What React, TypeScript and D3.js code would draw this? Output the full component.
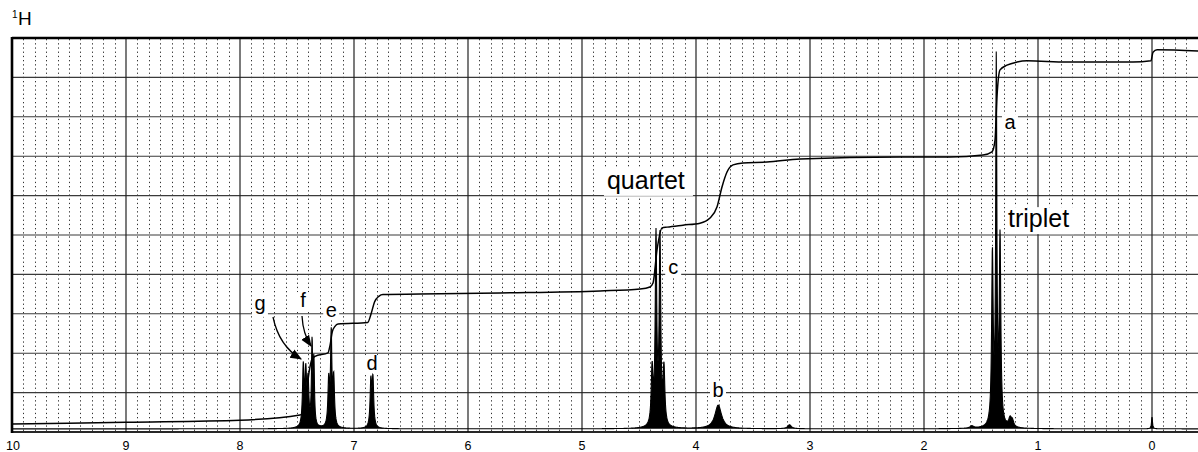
import React from "react";
import * as d3 from "d3";

// ---- data ----
const xTicks = [10, 9, 8, 7, 6, 5, 4, 3, 2, 1, 0];
const tickLabels = ["10", "9", "8", "7", "6", "5", "4", "3", "2", "1", "0"];

// spectrum lines: position (ppm), height (grid units), half-width (ppm)
const peakPpm = [7.445, 7.423, 7.403, 7.368, 7.352, 7.222, 7.2, 7.178, 6.852, 6.834, 4.385, 4.351, 4.316, 4.281, 3.805, 3.18, 1.58, 1.4, 1.366, 1.333, 1.245, 1.225, 0.0];
const peakHeight = [1.5, 1.3, 1.1, 2.05, 1.6, 1.15, 2.3, 1.2, 1.15, 1.2, 1.4, 4.75, 4.7, 1.4, 0.6, 0.1, 0.06, 4.3, 9.1, 4.7, 0.2, 0.15, 0.3];
const peakWidth = [0.008, 0.008, 0.008, 0.006, 0.006, 0.008, 0.007, 0.008, 0.008, 0.008, 0.009, 0.008, 0.008, 0.009, 0.035, 0.02, 0.02, 0.008, 0.006, 0.008, 0.015, 0.015, 0.005];
const spectrumBaseline = 0.08;

// integral trace (ppm, grid units)
const integralPpm = [10, 9.0, 8.0, 7.474, 7.447, 7.42, 7.395, 7.368, 7.342, 7.228, 7.21, 7.19, 7.167, 7.14, 6.88, 6.85, 6.82, 6.78, 6.746, 6.42, 5.72, 4.84, 4.49, 4.404, 4.377, 4.342, 4.298, 4.254, 4.114, 3.965, 3.877, 3.816, 3.772, 3.728, 3.675, 3.588, 3.377, 3.088, 2.211, 1.772, 1.482, 1.404, 1.377, 1.36, 1.333, 1.272, 1.184, 1.096, 0.746, 0.167, 0.009, -0.009, -0.044, -0.404];
const integralValue = [0.2, 0.25, 0.3, 0.43, 0.48, 0.9, 1.5, 1.85, 1.92, 2.01, 2.2, 2.55, 2.68, 2.74, 2.78, 3.0, 3.3, 3.45, 3.49, 3.5, 3.53, 3.58, 3.63, 3.68, 3.78, 4.62, 5.18, 5.2, 5.25, 5.3, 5.43, 5.71, 6.22, 6.6, 6.78, 6.83, 6.85, 6.93, 6.98, 6.98, 7.03, 7.11, 7.41, 8.5, 9.19, 9.31, 9.39, 9.42, 9.39, 9.39, 9.42, 9.64, 9.7, 9.67];

// labels: text, ppm, grid-unit baseline
const labelText = ["g", "f", "e", "d", "c", "b", "a"];
const labelPpm = [7.825, 7.447, 7.2, 6.842, 4.2, 3.807, 1.246];
const labelValue = [3.1, 3.17, 2.92, 1.57, 4.0, 0.89, 7.685];
const noteText = ["quartet", "triplet"];
const notePpm = [4.781, 1.263];
const noteValue = [6.17, 5.2];

const W = 1198;
const H = 452;
const FONT = "'Liberation Sans', Arial, Helvetica, sans-serif";

export default function App() {
  const x = d3.scaleLinear().domain([10, 0]).range([12, 1152]);
  const y = d3.scaleLinear().domain([0, 10]).range([432, 38]);
  const xMin = x.invert(W); // right edge ppm

  // minor ticks every 0.1 ppm
  const minor: number[] = [];
  for (let i = 100; i >= Math.ceil(xMin * 10); i--) {
    if (i % 10 !== 0) minor.push(i / 10);
  }
  const hLines = d3.range(0, 11);

  // spectrum sampling
  const pts: [number, number][] = [];
  for (let px = 12; px <= W; px += 0.25) {
    const p = x.invert(px);
    let v = spectrumBaseline;
    for (let i = 0; i < peakPpm.length; i++) {
      const w = peakWidth[i];
      const d = p - peakPpm[i];
      v += (peakHeight[i] * w * w) / (d * d + w * w);
    }
    pts.push([px, y(v)]);
  }
  const specLine = d3.line<[number, number]>().x((d) => d[0]).y((d) => d[1]);
  const specArea = d3
    .area<[number, number]>()
    .x((d) => d[0])
    .y0(y(spectrumBaseline))
    .y1((d) => d[1]);

  const integ = integralPpm.map((p, i) => [x(p), y(integralValue[i])] as [number, number]);
  const integLine = d3.line<[number, number]>().x((d) => d[0]).y((d) => d[1]).curve(d3.curveMonotoneX);

  return (
    <svg
      width={W}
      height={H}
      style={{ position: "absolute", left: 0, top: 0, background: "#fff" }}
      fontFamily={FONT}
    >
      <rect x={0} y={0} width={W} height={H} fill="#fff" />
      {/* minor dotted verticals */}
      {minor.map((m) => (
        <line
          key={"m" + m}
          x1={Math.round(x(m)) + 0.5}
          x2={Math.round(x(m)) + 0.5}
          y1={39}
          y2={432}
          stroke="#333"
          strokeWidth={1}
          strokeDasharray="1.3 2.9"
        />
      ))}
      {/* horizontal grid */}
      {hLines.map((h) => (
        <line key={"h" + h} x1={12} x2={W} y1={y(h)} y2={y(h)} stroke="#3a3a3a" strokeWidth={1.1} />
      ))}
      {/* major verticals */}
      {xTicks.map((t) => (
        <line key={"v" + t} x1={x(t)} x2={x(t)} y1={38} y2={432} stroke="#222" strokeWidth={1.2} />
      ))}

      {/* label backgrounds */}
      {labelText.map((t, i) => (
        <rect
          key={"lb" + i}
          x={x(labelPpm[i]) - 8}
          y={y(labelValue[i]) - 15}
          width={16}
          height={t === "g" ? 22 : 18}
          fill="#fff"
        />
      ))}
      {noteText.map((t, i) => (
        <rect
          key={"nb" + i}
          x={x(notePpm[i]) - 3}
          y={y(noteValue[i]) - 20}
          width={t === "quartet" ? 89 : 69}
          height={27}
          fill="#fff"
        />
      ))}

      {/* frame */}
      <line x1={12} x2={W} y1={38} y2={38} stroke="#000" strokeWidth={2.6} />
      <line x1={12} x2={12} y1={37} y2={433} stroke="#000" strokeWidth={2.6} />
      <line x1={12} x2={W} y1={432} y2={432} stroke="#000" strokeWidth={1.6} />

      {/* integral */}
      <path d={integLine(integ) || ""} fill="none" stroke="#000" strokeWidth={1.5} />

      {/* spectrum */}
      <path d={specArea(pts) || ""} fill="#000" stroke="none" />
      <path d={specLine(pts) || ""} fill="none" stroke="#000" strokeWidth={1.1} />

      {/* arrows */}
      <defs>
        <marker id="ah" viewBox="0 0 10 10" refX={9} refY={5} markerWidth={9} markerHeight={9} orient="auto">
          <path d="M0,1 L10,5 L0,9 Z" fill="#000" />
        </marker>
      </defs>
      <path d="M273,317 Q279,346 301,359" fill="none" stroke="#000" strokeWidth={1.3} markerEnd="url(#ah)" />
      <path d="M302,316 Q303,334 311,346" fill="none" stroke="#000" strokeWidth={1.3} markerEnd="url(#ah)" />

      {/* labels */}
      {labelText.map((t, i) => (
        <text key={"l" + i} x={x(labelPpm[i])} y={y(labelValue[i])} textAnchor="middle" fontSize={20} fill="#000">
          {t}
        </text>
      ))}
      {noteText.map((t, i) => (
        <text key={"n" + i} x={x(notePpm[i])} y={y(noteValue[i])} fontSize={25} fill="#000">
          {t}
        </text>
      ))}

      {/* tick labels */}
      {xTicks.map((t, i) => (
        <text key={"t" + t} x={x(t) + (t === 10 ? 1 : 0)} y={450} textAnchor="middle" fontSize={12.5} fill="#000">
          {tickLabels[i]}
        </text>
      ))}

      {/* nucleus label */}
      <text x={12} y={18} fontSize={10} fill="#000">1</text>
      <text x={18} y={25} fontSize={19} fill="#000">H</text>
    </svg>
  );
}
